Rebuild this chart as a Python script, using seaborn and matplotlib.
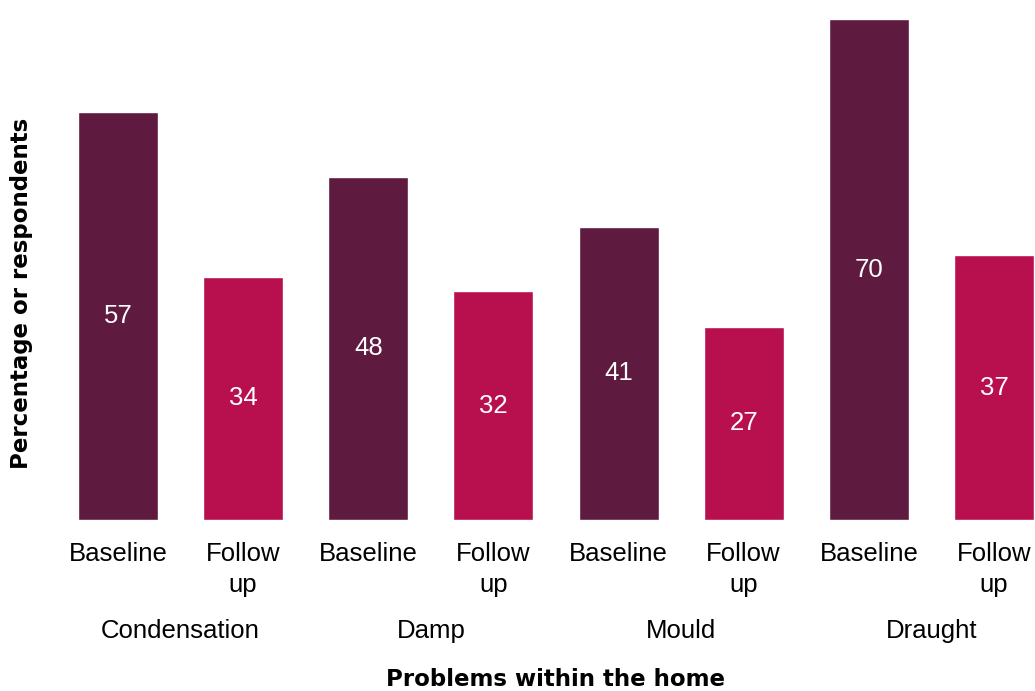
import matplotlib
matplotlib.use('Agg')
import matplotlib.pyplot as plt
import matplotlib.transforms as mtransforms
import seaborn as sns
import pandas as pd

# Data
problems = ["Condensation", "Damp", "Mould", "Draught"]
periods = ["Baseline", "Follow up"]
baseline = [57, 48, 41, 70]
follow_up = [34, 32, 27, 37]
colors = {"Baseline": "#5f1a3f", "Follow up": "#b80f4f"}

sns.set_theme(style="white")
plt.rcParams['font.family'] = ['Liberation Sans', 'DejaVu Sans']
plt.rcParams['text.color'] = 'black'
plt.rcParams['axes.labelcolor'] = 'black'
plt.rcParams['xtick.color'] = 'black'

rows = []
for prob, b, f in zip(problems, baseline, follow_up):
    rows.append({"bar": f"{prob} Baseline", "period": "Baseline", "value": b})
    rows.append({"bar": f"{prob} Follow up", "period": "Follow up", "value": f})
df = pd.DataFrame(rows)

fig = plt.figure(figsize=(10.35, 6.91), dpi=100)
ax = fig.add_axes([55.5 / 1035, 171 / 691, 1001 / 1035, 515 / 691])

sns.barplot(data=df, x="bar", y="value", hue="period", palette=colors,
            dodge=False, width=0.64, legend=False, ax=ax, saturation=1)

ax.set_xlim(-0.5, 7.5)
ax.set_ylim(0, 72)
ax.set_yticks([])
for s in ax.spines.values():
    s.set_visible(False)

# value labels in the middle of each bar
for cont in ax.containers:
    ax.bar_label(cont, label_type='center', color='white', fontsize=18.5)

ax.set_xticks(range(len(df)))
ax.set_xticklabels(["Baseline", "Follow\nup"] * len(problems), fontsize=18.5,
                   linespacing=1.35)
ax.tick_params(axis='x', length=0, pad=16)

# group labels under each pair of bars
trans = mtransforms.blended_transform_factory(ax.transData, ax.transAxes)
for i, prob in enumerate(problems):
    ax.text(2 * i + 0.5, -0.2155, prob, transform=trans, ha='center', va='center',
            fontsize=18.5)

ax.set_xlabel("Problems within the home", fontsize=16.5, fontweight='bold',
              family='DejaVu Sans')
ax.xaxis.set_label_coords(0.5, -0.287)
ax.set_ylabel("Percentage or respondents", fontsize=16.5, fontweight='bold',
              family='DejaVu Sans')
ax.yaxis.set_label_coords(-0.022, 0.44)

fig.savefig("out.png", dpi=100, facecolor='white')
plt.close(fig)
